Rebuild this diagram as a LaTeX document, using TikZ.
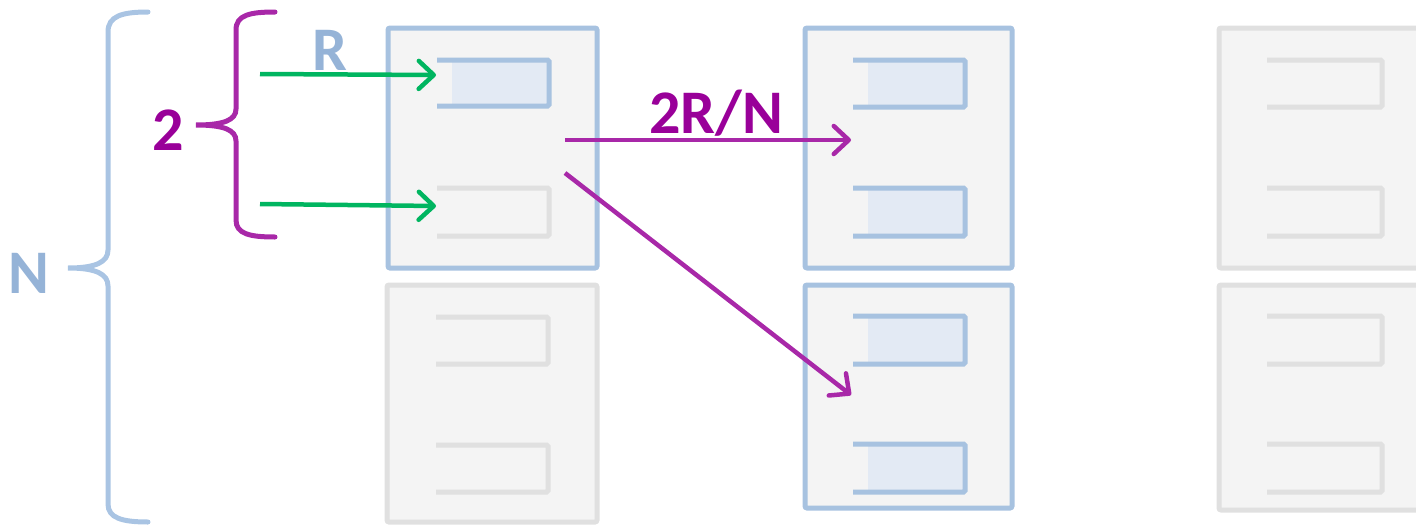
\documentclass[tikz,border=0pt]{standalone}
\usepackage{fontspec}
\setmainfont{Carlito}
\usetikzlibrary{arrows.meta}
\definecolor{bborder}{HTML}{A7C2E0}
\definecolor{gborder}{HTML}{E0E0E0}
\definecolor{boxfill}{HTML}{F4F4F4}
\definecolor{slotfill}{HTML}{E3EAF4}
\definecolor{arrgreen}{HTML}{00B560}
\definecolor{arrpurple}{HTML}{A828A8}
\definecolor{txtpurple}{HTML}{990099}
\definecolor{txtblue}{HTML}{95B3D7}
\definecolor{braceblue}{HTML}{A9C4E3}
\tikzset{
  cab/.style={line width=5pt, fill=boxfill, rounded corners=2pt},
  slotline/.style={line width=5pt, rounded corners=1.5pt},
  arr/.style={line width=4.5pt, -{Straight Barb[length=15pt,width=28pt,round]}},
  brc/.style={line width=5pt, line cap=round},
  lbl/.style={font=\fontsize{62}{62}\selectfont\bfseries, inner sep=0pt, anchor=base}
}
% slot: #1 colour, #2 left, #3 top, #4 right, #5 bottom, #6 filled (1/0)
\newcommand\drawslot[6]{%
  \ifnum#6=1 \fill[slotfill] (#2+15,#3) rectangle (#4,#5);\fi
  \draw[slotline,draw=#1] (#2,#3) -- (#4,#3) -- (#4,#5) -- (#2,#5);
}
\begin{document}
\begin{tikzpicture}[x=1pt,y=-1pt]
\useasboundingbox (0,0) rectangle (1416,525);
\clip (0,0) rectangle (1416,525);
% column 1
\draw[cab,draw=bborder] (388,28) rectangle (597,268);
\drawslot{bborder}{437}{60}{549}{106}{1}
\drawslot{gborder}{437}{188}{549}{236}{0}
\draw[cab,draw=gborder] (387,285) rectangle (597,522);
\drawslot{gborder}{436}{317}{548}{364}{0}
\drawslot{gborder}{436}{445}{548}{492}{0}
% column 2
\draw[cab,draw=bborder] (805,28) rectangle (1012,268);
\drawslot{bborder}{853}{60}{965}{107}{1}
\drawslot{bborder}{853}{188}{965}{236}{1}
\draw[cab,draw=bborder] (805,285) rectangle (1012,508);
\drawslot{bborder}{853}{316}{965}{364}{1}
\drawslot{bborder}{853}{444}{965}{492}{1}
% column 3
\draw[cab,draw=gborder] (1219,28) rectangle (1430,268);
\drawslot{gborder}{1267}{60}{1382}{107}{0}
\drawslot{gborder}{1267}{188}{1382}{236}{0}
\draw[cab,draw=gborder] (1219,285) rectangle (1430,510);
\drawslot{gborder}{1267}{316}{1382}{364}{0}
\drawslot{gborder}{1267}{444}{1382}{492}{0}
% braces
\draw[brc,braceblue] (148,12) .. controls (122,12) and (108,16) .. (108,32) -- (108,250)
  .. controls (108,262) and (96,268) .. (68,268)
  .. controls (96,268) and (108,274) .. (108,286) -- (108,504)
  .. controls (108,518) and (122,522) .. (148,522);
\draw[brc,arrpurple] (275,12) .. controls (250,12) and (236,15) .. (236,30) -- (236,109)
  .. controls (236,120) and (224,125) .. (196,125)
  .. controls (224,125) and (236,130) .. (236,141) -- (236,220)
  .. controls (236,234) and (250,237) .. (275,237);
% labels
\node[lbl,text=txtblue] (lR) at (330,70) {R};
\node[lbl,text=txtpurple] (l2) at (168,150) {2};
\node[lbl,text=txtblue] (lN) at (29,293) {N};
\node[lbl,text=txtpurple] (lRN) at (716,133) {2R/N};
% arrow end points
\coordinate (g1s) at (260,74);
\coordinate (g1e) at (436,75);
\coordinate (g2s) at (260,204);
\coordinate (g2e) at (436,206);
\coordinate (p1s) at (565,140);
\coordinate (p1e) at (851,140);
\coordinate (p2s) at (565,173);
\coordinate (p2e) at (851,395);
\draw[arr,arrgreen] (g1s) -- (g1e);
\draw[arr,arrgreen] (g2s) -- (g2e);
\draw[arr,arrpurple] (p1s) -- (p1e);
\draw[arr,arrpurple] (p2s) -- (p2e);
\end{tikzpicture}
\end{document}
